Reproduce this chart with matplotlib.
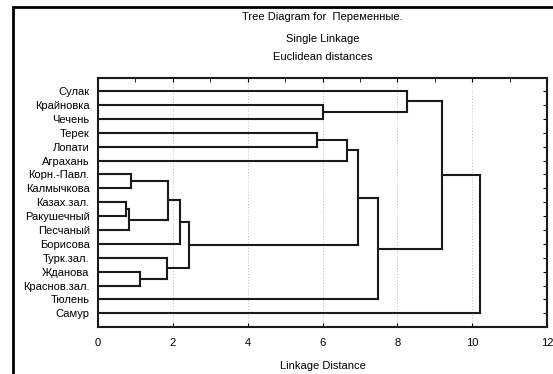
import matplotlib
matplotlib.use("Agg")
import matplotlib.pyplot as plt
from matplotlib.patches import Rectangle
from matplotlib.ticker import MultipleLocator

plt.rcParams['font.family'] = ['Liberation Sans', 'DejaVu Sans']

# leaf order, top to bottom
leaves = ["Сулак", "Крайновка", "Чечень", "Терек", "Лопати", "Аграхань",
          "Корн.-Павл.", "Калмычкова", "Казах.зал.", "Ракушечный", "Песчаный",
          "Борисова", "Турк.зал.", "Жданова", "Краснов.зал.", "Тюлень", "Самур"]

# single-linkage joins: (left member, right member, linkage distance)
# members are leaf names or earlier join ids "c0", "c1", ...
joins = [
    ("Казах.зал.", "Ракушечный", 0.75),   # c0
    ("c0", "Песчаный", 0.82),             # c1
    ("Корн.-Павл.", "Калмычкова", 0.87),  # c2
    ("c2", "c1", 1.88),                   # c3
    ("c3", "Борисова", 2.18),             # c4
    ("Жданова", "Краснов.зал.", 1.11),    # c5
    ("Турк.зал.", "c5", 1.85),            # c6
    ("c4", "c6", 2.44),                   # c7
    ("Крайновка", "Чечень", 6.00),        # c8
    ("Сулак", "c8", 8.25),                # c9
    ("Терек", "Лопати", 5.86),            # c10
    ("c10", "Аграхань", 6.65),            # c11
    ("c11", "c7", 6.94),                  # c12
    ("c12", "Тюлень", 7.47),              # c13
    ("c9", "c13", 9.19),                  # c14
    ("c14", "Самур", 10.20),              # c15
]

fig = plt.figure(figsize=(5.53, 3.74), dpi=100)
ax = fig.add_axes([0.1772, 0.1257, 0.8120, 0.6657])

pos = {name: i + 1 for i, name in enumerate(leaves)}
height = {name: 0.0 for name in leaves}
lc = '#1a1a1a'
for k, (a, b, d) in enumerate(joins):
    ya, yb = pos[a], pos[b]
    ax.plot([height[a], d], [ya, ya], color=lc, lw=1.5, solid_capstyle='projecting', zorder=3)
    ax.plot([height[b], d], [yb, yb], color=lc, lw=1.5, solid_capstyle='projecting', zorder=3)
    ax.plot([d, d], [ya, yb], color=lc, lw=1.5, solid_capstyle='projecting', zorder=3)
    cid = "c%d" % k
    pos[cid] = (ya + yb) / 2
    height[cid] = d

ax.set_xlim(0, 12)
ax.set_ylim(17.98, 0.06)
ax.set_yticks(range(1, len(leaves) + 1))
ax.set_yticklabels(leaves, fontsize=8)
ax.tick_params(axis='y', left=False, right=True, direction='in', length=3, pad=6)

ax.xaxis.set_major_locator(MultipleLocator(2))
ax.xaxis.set_minor_locator(MultipleLocator(1))
ax.tick_params(axis='x', which='major', bottom=True, top=True, direction='in',
               length=3, labelsize=8, pad=8)
ax.tick_params(axis='x', which='minor', bottom=False, top=True, direction='in', length=3)
ax.grid(axis='x', which='major', color='#bbbbbb', linestyle=(0, (1, 2)), lw=0.7)
ax.set_axisbelow(True)
for s in ax.spines.values():
    s.set_linewidth(1.5)
    s.set_color(lc)

ax.set_xlabel("Linkage Distance", fontsize=8, labelpad=9)

cx = 322.5 / 553
fig.text(cx, 1 - 17 / 374, "Tree Diagram for  Переменные.", ha='center', va='center', fontsize=8)
fig.text(cx, 1 - 39 / 374, "Single Linkage", ha='center', va='center', fontsize=8)
fig.text(cx, 1 - 57 / 374, "Euclidean distances", ha='center', va='center', fontsize=8)

# outer frame, running off the right and bottom edges
fig.patches.append(Rectangle((13 / 553, -0.2), 1.2, 1.2 - 7 / 374,
                             transform=fig.transFigure, fill=False, lw=2, ec='black'))

fig.savefig("out.png", dpi=100)
